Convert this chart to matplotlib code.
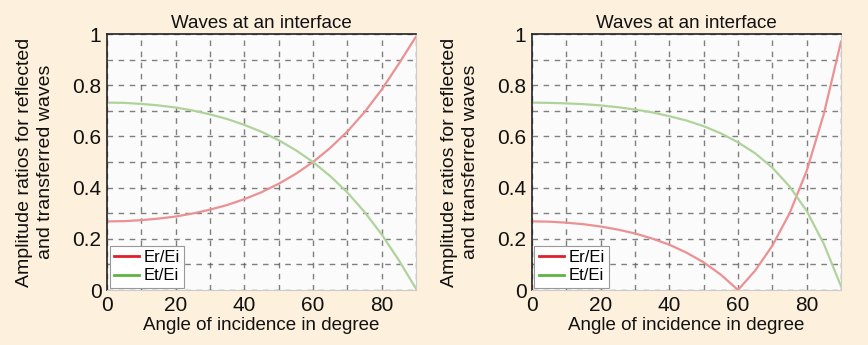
import numpy as np
import matplotlib
matplotlib.use("Agg")
import matplotlib.pyplot as plt
from matplotlib.lines import Line2D

plt.rcParams['font.family'] = ['Liberation Sans', 'DejaVu Sans']

# angle of incidence (degrees)
angle = [0, 5, 10, 15, 20, 25, 30, 35, 40, 45, 50, 55, 60, 65, 70, 75, 80, 85, 90]

# left panel (perpendicular polarisation)
er_left = [0.268, 0.269, 0.273, 0.279, 0.287, 0.299, 0.314, 0.332, 0.355, 0.382,
           0.415, 0.454, 0.500, 0.555, 0.619, 0.695, 0.783, 0.884, 0.990]
et_left = [0.732, 0.731, 0.727, 0.721, 0.713, 0.701, 0.686, 0.668, 0.645, 0.618,
           0.585, 0.546, 0.500, 0.445, 0.381, 0.305, 0.217, 0.116, 0.005]

# right panel (parallel polarisation)
er_right = [0.268, 0.267, 0.263, 0.257, 0.248, 0.236, 0.221, 0.201, 0.177, 0.146,
            0.108, 0.060, 0.000, 0.076, 0.173, 0.299, 0.465, 0.688, 0.970]
et_right = [0.732, 0.731, 0.729, 0.726, 0.721, 0.714, 0.705, 0.694, 0.679, 0.662,
            0.640, 0.612, 0.577, 0.534, 0.478, 0.405, 0.309, 0.180, 0.015]

xticks = [0, 20, 40, 60, 80]
yticks = [0, 0.2, 0.4, 0.6, 0.8, 1]
ytick_labels = ["0", "0.2", "0.4", "0.6", "0.8", "1"]

BG = "#fdf0dc"
RED = "#eb9193"
GREEN = "#b0d39c"

fig = plt.figure(figsize=(8.68, 3.45), dpi=100, facecolor=BG)
ax1 = fig.add_axes([0.1233, 0.1594, 0.356, 0.742])
ax2 = fig.add_axes([0.6129, 0.1594, 0.356, 0.742])

for ax, er, et in [(ax1, er_left, et_left), (ax2, er_right, et_right)]:
    ax.set_facecolor("#fbfbfb")
    ax.set_xlim(0, 90)
    ax.set_ylim(0, 1)
    ax.set_xticks(np.arange(0, 91, 10), minor=True)
    ax.set_yticks(np.arange(0, 1.01, 0.1), minor=True)
    ax.set_xticks(xticks)
    ax.set_yticks(yticks)
    ax.set_yticklabels(ytick_labels)
    ax.grid(True, which="both", color="#555555", linestyle=(0, (4, 4)),
            linewidth=1.0, alpha=0.75)
    ax.set_axisbelow(True)
    ax.tick_params(which="both", length=0, labelsize=15, colors="#111111")
    ax.tick_params(axis="x", pad=4)
    ax.tick_params(axis="y", pad=4)
    ax.plot(angle, er, color=RED, lw=1.6)
    ax.plot(angle, et, color=GREEN, lw=1.6)
    for s in ["top", "left"]:
        ax.spines[s].set_color("#222222")
        ax.spines[s].set_linewidth(1.2)
    for s in ["bottom", "right"]:
        ax.spines[s].set_color("#cccccc")
        ax.spines[s].set_linewidth(0.8)
    ax.set_title("Waves at an interface", fontsize=13.5, pad=4, color="#111111")
    ax.set_xlabel("Angle of incidence in degree", fontsize=13.5, labelpad=2, color="#111111")
    ax.set_ylabel("Amplitude ratios for reflected\nand transferred waves", fontsize=14,
                  labelpad=13, color="#111111", linespacing=1.35)
    handles = [Line2D([], [], color="#e01f26", lw=2),
               Line2D([], [], color="#5db344", lw=2)]
    leg = ax.legend(handles, ["Er/Ei", "Et/Ei"], loc="lower left", fontsize=12,
                    fancybox=False, framealpha=1, edgecolor="#999999",
                    borderpad=0.25, handlelength=1.5, handletextpad=0.3,
                    labelspacing=0.2, borderaxespad=0.15)
    leg.get_frame().set_linewidth(0.8)

fig.savefig("out.png", dpi=100, facecolor=BG)
